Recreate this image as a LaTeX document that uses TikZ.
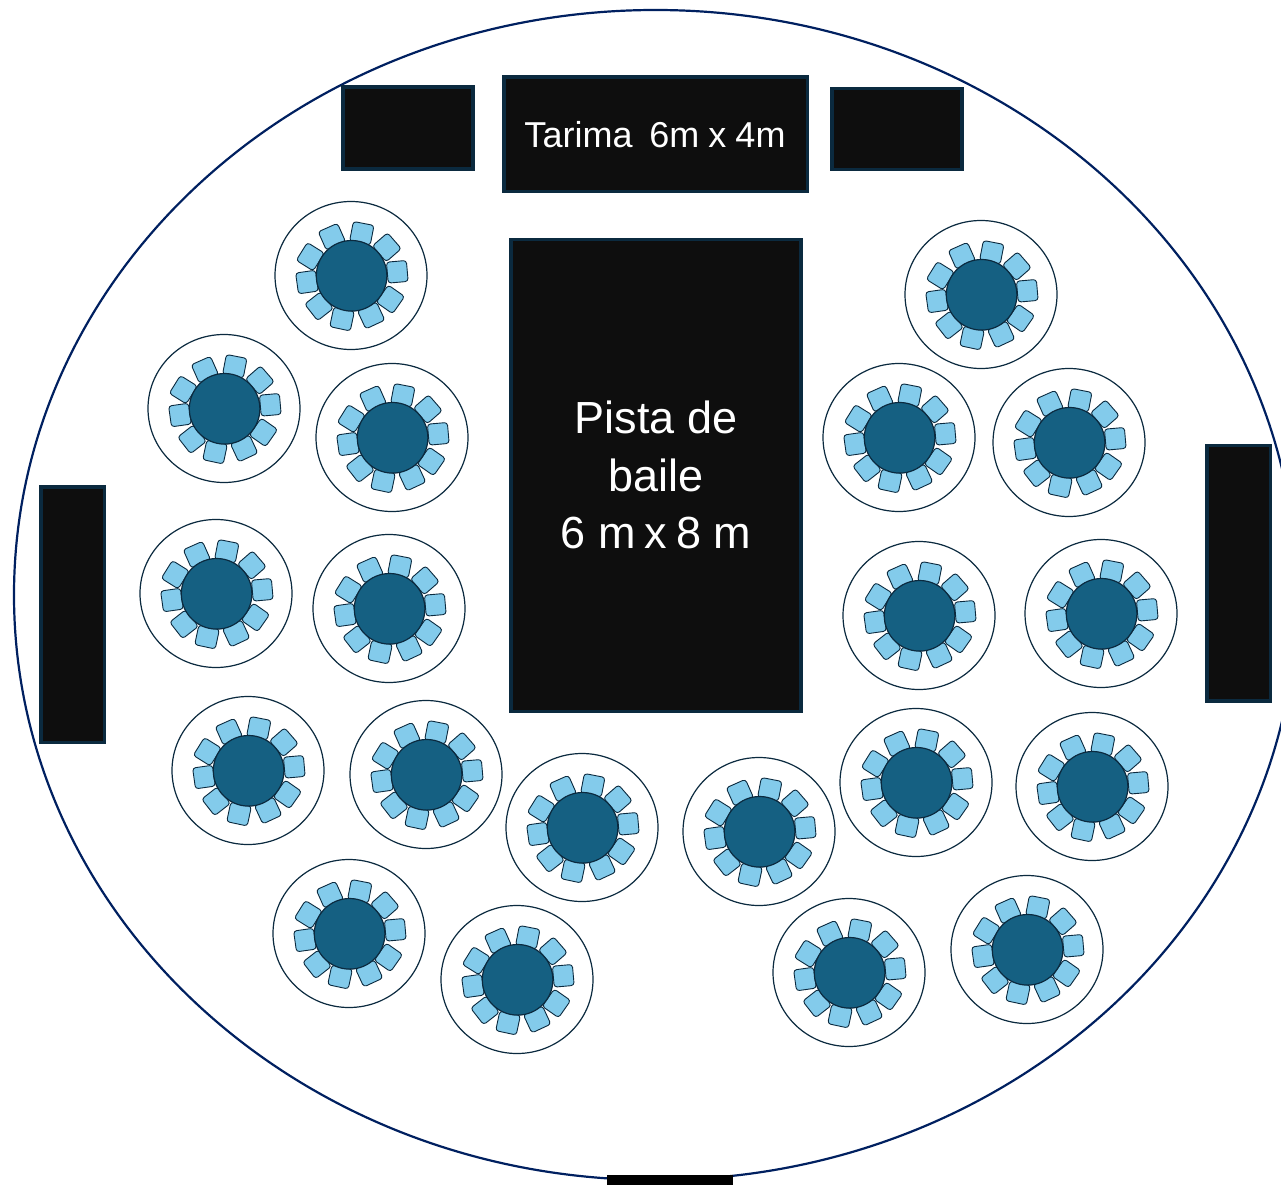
\documentclass[tikz,border=0pt]{standalone}
\usepackage{fontspec}
\setmainfont{Liberation Sans}
\definecolor{blk}{HTML}{0E0E0E}
\definecolor{edge}{HTML}{0B2A3F}
\definecolor{hall}{HTML}{002060}
\definecolor{tbl}{HTML}{156082}
\definecolor{chr}{HTML}{83CBEB}
\tikzset{
  block/.style={draw=edge,line width=3.5pt,fill=blk,inner sep=0pt},
  blocktext/.style={text=white,inner sep=0pt,align=center},
  plate/.style={draw=edge,line width=1.2pt,fill=white},
  tabletop/.style={draw=edge,line width=1.2pt,fill=tbl},
  seat/.style={draw=edge,line width=.9pt,fill=chr,rounded corners=3pt}
}
\begin{document}
\begin{tikzpicture}[x=1pt,y=-1pt]
\useasboundingbox (0,0) rectangle (1281,1185);
\begin{scope}
\clip (0,0) rectangle (1281,1185);
\draw[hall,line width=2.2pt] (655.5,595) ellipse [x radius=641.5,y radius=585];
\node[block] (tarima) at (655.7,134.3) [minimum width=303.5pt,minimum height=114.5pt] {};
\node[blocktext,font=\fontsize{36}{36}\selectfont] (tarimatext) at (655,135) {Tarima\hspace{17pt}6m\hspace{9pt}x\hspace{9pt}4m};
\node[block] (sl) at (407.9,128.2) [minimum width=130pt,minimum height=82pt] {};
\node[block] (sr) at (897,129) [minimum width=130pt,minimum height=81pt] {};
\node[block] (pista) at (656,475.5) [minimum width=290pt,minimum height=472pt] {};
\node[blocktext,font=\fontsize{45}{57.5}\selectfont] (pistatext) at (656,475.3) {Pista de\\baile\\6 m\hspace{9pt}x\hspace{9pt}8 m};
\node[block] (wl) at (72.5,614.5) [minimum width=63.5pt,minimum height=255.5pt] {};
\node[block] (wr) at (1238.5,573) [minimum width=63.5pt,minimum height=255.5pt] {};
\fill[black] (607,1175) rectangle (733,1185);
\foreach \cx/\cy in {351/275,981/294,224/408,392/437,899/437,1069/442,216/593,389/608,919/615,1101/613,248/770,426/774,582/827,759/831,916/782,1092/786,349/933,517/979,849/972,1027/949}{
  \begin{scope}[shift={(\cx,\cy)}]
    \draw[plate] (0,0.5) ellipse [x radius=76,y radius=74];
    \begin{scope}[shift={(0.4,0)}]
    \foreach \a/\r/\t in {76/43/-11,117/43/24,156/45/58,189/45/98,224/45/128,258/45/168,296/45/205,328/46/235,4/46/-85,38/45/-49}{
      \node[seat,rotate=\t,minimum width=21pt,minimum height=20pt,inner sep=0pt] at (-\a:\r) {};
    }
    \end{scope}
    \draw[tabletop] (0.6,0.8) circle [radius=35.3];
  \end{scope}
}
\end{scope}
\end{tikzpicture}
\end{document}
